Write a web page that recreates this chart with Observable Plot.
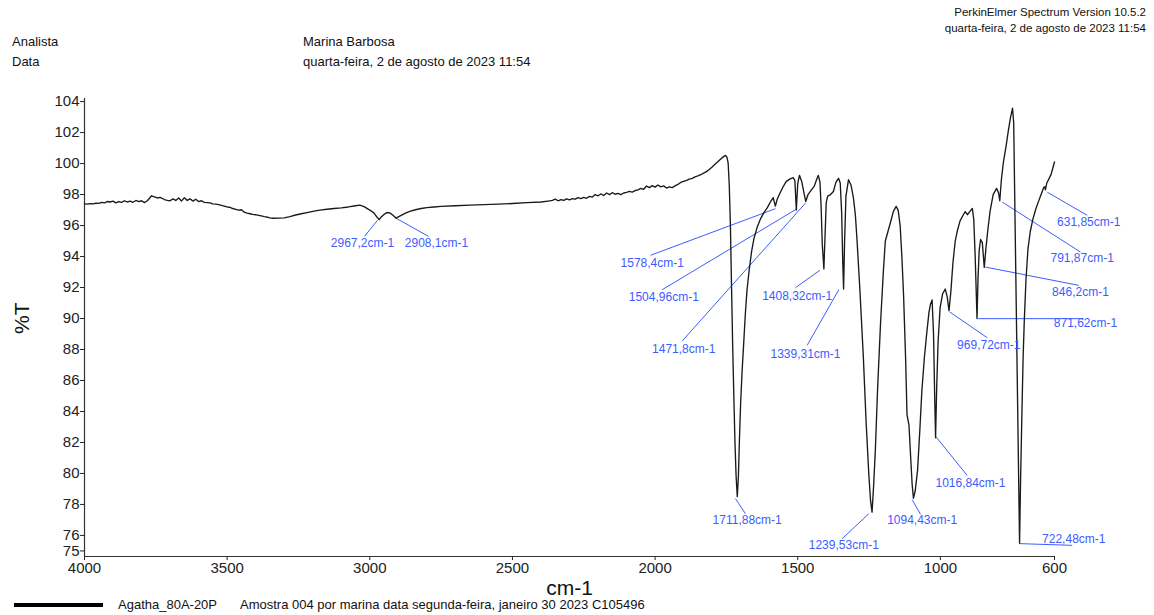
<!DOCTYPE html>
<html><head><meta charset="utf-8">
<script src="https://cdn.jsdelivr.net/npm/d3@7"></script>
<script src="https://cdn.jsdelivr.net/npm/@observablehq/plot@0.6"></script>
<style>
body{margin:0;background:#fff;font-family:"Liberation Sans",Arial,sans-serif;}
#wrap{position:relative;width:1154px;height:615px;overflow:hidden;background:#fff;}
.t{position:absolute;white-space:nowrap;color:#111;line-height:16px;}
</style></head><body>
<div id="wrap">
  <div class="t" style="right:8px;top:4px;font-size:11.5px;text-align:right;">PerkinElmer Spectrum Version 10.5.2<br>quarta-feira, 2 de agosto de 2023 11:54</div>
  <div class="t" style="left:12px;top:34px;font-size:13px;">Analista</div>
  <div class="t" style="left:303px;top:34px;font-size:13px;">Marina Barbosa</div>
  <div class="t" style="left:12px;top:54px;font-size:13px;">Data</div>
  <div class="t" style="left:303px;top:54px;font-size:13px;">quarta-feira, 2 de agosto de 2023 11:54</div>
  <div id="chart" style="position:absolute;left:0;top:78px;"></div>
  <div style="position:absolute;left:14px;top:603px;width:89px;height:4px;background:#000;"></div>
  <div class="t" style="left:118px;top:597px;font-size:13px;">Agatha_80A-20P</div>
  <div class="t" style="left:240px;top:597px;font-size:13px;">Amostra 004 por marina data segunda-feira, janeiro 30 2023 C105496</div>
</div>
<script>
// Spectrum values (cm-1, %T)
const wavenumber = [
4000,3990,3980,3970,3960,3950,3940,3930,3920,3910,3900,3890,3880,3870,3860,3850,3840,3830,3820,3810,
3800,3790,3780,3775,3765,3755,3745,3735,3720,3710,3700,3690,3680,3670,3660,3650,3640,3630,3620,3610,
3600,3590,3580,3570,3560,3550,3540,3530,3520,3510,3500,3490,3480,3470,3460,3450,3440,3430,3420,3410,
3400,3390,3380,3370,3360,3350,3340,3320,3300,3280,3260,3240,3220,3200,3175,3150,3125,3100,3075,3050,
3035,3020,3000,2985,2975,2967.2,2960,2950,2940,2930,2920,2908.1,2900,2890,2875,2860,2840,2820,2800,2775,
2750,2700,2650,2600,2550,2500,2450,2400,2375,2360,2350,2340,2330,2320,2310,2300,2290,2280,2270,2260,
2250,2240,2230,2220,2210,2200,2190,2180,2170,2160,2150,2140,2130,2120,2110,2100,2090,2080,2070,2060,
2050,2040,2030,2020,2010,2000,1990,1980,1970,1960,1950,1940,1930,1920,1910,1900,1890,1880,1870,1860,
1850,1840,1830,1820,1810,1800,1790,1780,1770,1760,1753,1748,1744,1740,1736,1732,1728,1724,1720,1716,
1711.88,1708,1704,1700,1695,1690,1684,1678,1671,1662,1653,1642,1630,1618,1607,1595,1586,1578.4,1572,1562,
1550,1540,1528,1516,1510,1504.96,1500,1494,1486,1478,1471.8,1464,1452,1442,1434,1428,1422,1418,1414,1408.32,
1404,1400,1395,1385,1375,1366,1357,1351,1346,1342,1339.31,1336,1331,1322,1313,1305,1298,1292,1282,1270,
1260,1251,1245,1239.53,1234,1228,1220,1210,1200,1193,1184,1175,1165,1155,1148,1141,1135,1129,1122,1117,
1110,1104,1099,1094.43,1088,1080,1072,1065,1056,1047,1040,1035,1029,1024,1020,1016.84,1013,1008,1001,992,
983,976,969.72,963,956,948,940,931,921,913,905,897,888,883,878,874,871.62,868,864,859,
853,846.2,841,835,826,815,803,796,791.87,786,779,770,762,754,747,743,722.48,719,715,710,
706,700,693,685,676,665,656,645,638,634,631.85,627,620,612,606,600
];
const transmittance = [
97.40,97.38,97.42,97.40,97.44,97.43,97.50,97.46,97.55,97.52,97.58,97.46,97.55,97.50,97.60,97.52,97.58,97.50,97.62,97.55,
97.60,97.48,97.60,97.70,97.92,97.85,97.78,97.82,97.68,97.62,97.60,97.72,97.62,97.78,97.58,97.80,97.62,97.72,97.58,97.70,
97.55,97.60,97.50,97.48,97.46,97.40,97.38,97.35,97.30,97.25,97.20,97.18,97.10,97.05,97.00,97.02,96.86,96.80,96.76,96.72,
96.70,96.66,96.62,96.58,96.55,96.50,96.47,96.48,96.50,96.58,96.68,96.76,96.84,96.92,97.00,97.05,97.10,97.14,97.20,97.28,
97.32,97.22,97.00,96.80,96.55,96.38,96.55,96.72,96.84,96.82,96.68,96.48,96.56,96.66,96.80,96.92,97.02,97.10,97.16,97.20,
97.24,97.28,97.32,97.35,97.38,97.42,97.48,97.52,97.58,97.62,97.70,97.60,97.68,97.62,97.72,97.66,97.74,97.70,97.80,97.74,
97.82,97.76,97.88,97.84,98.00,97.92,98.04,97.94,98.10,98.00,98.12,98.02,98.08,98.00,98.10,98.14,98.20,98.16,98.26,98.30,
98.40,98.34,98.55,98.45,98.58,98.48,98.62,98.50,98.56,98.42,98.50,98.45,98.56,98.66,98.78,98.85,98.92,99.00,99.05,99.14,
99.20,99.28,99.38,99.48,99.62,99.78,99.95,100.12,100.30,100.45,100.53,100.40,100.05,98.60,96.00,92.00,88.20,85.00,82.00,79.80,
78.50,79.80,82.40,84.60,86.60,88.20,90.20,91.80,93.00,94.30,95.20,95.90,96.45,96.85,97.14,97.55,97.80,97.25,97.70,98.10,
98.55,98.85,99.00,99.10,98.90,97.00,98.70,99.24,98.85,98.10,97.55,98.00,98.30,98.55,98.95,99.24,98.80,97.20,94.80,93.20,
95.50,97.50,97.90,98.00,98.20,98.80,99.05,98.75,96.80,93.50,91.90,94.80,97.90,98.96,98.60,97.80,96.70,95.00,91.80,87.50,
83.20,80.00,78.30,77.50,79.20,81.50,85.50,89.60,93.00,95.00,95.60,96.20,96.90,97.24,97.00,96.00,94.00,91.50,87.50,83.80,
83.10,81.00,79.30,78.40,78.90,80.20,82.80,85.30,87.50,89.20,90.40,90.90,91.20,89.00,85.00,82.30,85.50,88.50,90.70,91.60,
91.90,91.40,90.50,91.80,93.60,95.00,95.70,96.30,96.65,96.90,96.70,96.90,97.10,96.40,94.00,91.50,90.00,92.60,94.40,95.10,
94.90,93.30,94.40,95.50,96.90,98.00,98.40,98.10,97.60,99.00,100.10,101.10,102.10,103.00,103.57,102.60,75.50,79.50,83.20,87.50,
89.80,92.50,94.50,95.60,96.40,97.10,97.56,98.10,98.45,98.50,98.30,98.75,99.00,99.30,99.70,100.10
];

// Axis ticks
const xTicks = [4000, 3500, 3000, 2500, 2000, 1500, 1000, 600];
const yTicks = [75, 76, 78, 80, 82, 84, 86, 88, 90, 92, 94, 96, 98, 100, 102, 104];

// Peak annotations
const peakLabels = ["2967,2cm-1","2908,1cm-1","1578,4cm-1","1504,96cm-1","1471,8cm-1","1408,32cm-1","1339,31cm-1","1711,88cm-1","1239,53cm-1","1094,43cm-1","1016,84cm-1","969,72cm-1","871,62cm-1","846,2cm-1","791,87cm-1","631,85cm-1","722,48cm-1"];
const peakW  = [2973, 2913.4, 1578, 1502, 1472.8, 1422.7, 1356, 1718.2, 1251, 1098.9, 1014.7, 966.9, 867.5, 841.9, 783.4, 625.7, 721.7];
const peakT  = [96.34, 96.53, 97.09, 97.09, 97.45, 93.11, 91.86, 78.37, 77.4, 78.31, 82.35, 90.42, 89.99, 93.32, 97.52, 98.16, 75.47];
const endW   = [3018.6, 2794.3, 2016, 1975, 1905, 1507.9, 1466.9, 1683.2, 1344.2, 1069.8, 906.1, 835.9, 497.4, 515, 509, 485.5, 538];
const endT   = [95.3, 95.3, 94.08, 91.86, 88.55, 91.99, 88.27, 77.4, 75.79, 77.36, 79.87, 88.76, 89.99, 92.14, 94.29, 96.66, 75.36];
const labelW = [3025.6, 2766.2, 2010, 1969.5, 1899.6, 1502, 1472.8, 1677.2, 1338.6, 1063.9, 894.5, 830.3, 491.4, 509, 503, 480, 532.4];
const labelT = [94.85, 94.85, 93.58, 91.35, 88.05, 91.43, 87.73, 76.97, 75.36, 76.97, 79.4, 88.27, 89.67, 91.67, 93.9, 96.23, 75.73];

const spectrum = wavenumber.map((w, i) => ({w, t: transmittance[i]}));
const annots = peakLabels.map((label, i) => ({label, x1: peakW[i], y1: peakT[i], x2: endW[i], y2: endT[i], lx: labelW[i], ly: labelT[i]}));

const blue = "#3d5cff";
const font = "Liberation Sans, Arial, sans-serif";

const chart = Plot.plot({
  width: 1154,
  height: 520,
  marginTop: 20,
  marginBottom: 42,
  marginLeft: 84,
  marginRight: 100,
  style: {fontFamily: font, color: "#222", background: "transparent", overflow: "visible"},
  x: {domain: [4000, 600]},
  y: {domain: [74.64, 104.2]},
  marks: [
    Plot.axisX({ticks: xTicks, tickFormat: d => String(d), tickSize: 4, tickPadding: 2, fontSize: 15, label: null}),
    Plot.axisY({ticks: yTicks, tickFormat: d => String(d), tickSize: 4, tickPadding: 1, fontSize: 15, label: null}),
    Plot.ruleX([4000], {stroke: "#333", strokeWidth: 1.2}),
    Plot.ruleY([74.64], {stroke: "#333", strokeWidth: 1.2}),
    Plot.link(annots, {x1: "x1", y1: "y1", x2: "x2", y2: "y2", stroke: blue, strokeWidth: 1}),
    Plot.line(spectrum, {x: "w", y: "t", stroke: "#1a1a1a", strokeWidth: 1.35}),
    Plot.text(annots, {x: "lx", y: "ly", text: "label", fill: blue, fontSize: 12}),
    Plot.text(["cm-1"], {frameAnchor: "bottom", dy: 38, fontSize: 21, fill: "#111"}),
    Plot.text(["%T"], {frameAnchor: "left", y: () => 89.0, dx: -62, rotate: -90, fontSize: 21, fill: "#111"})
  ]
});
document.getElementById("chart").appendChild(chart);
</script>
</body></html>
